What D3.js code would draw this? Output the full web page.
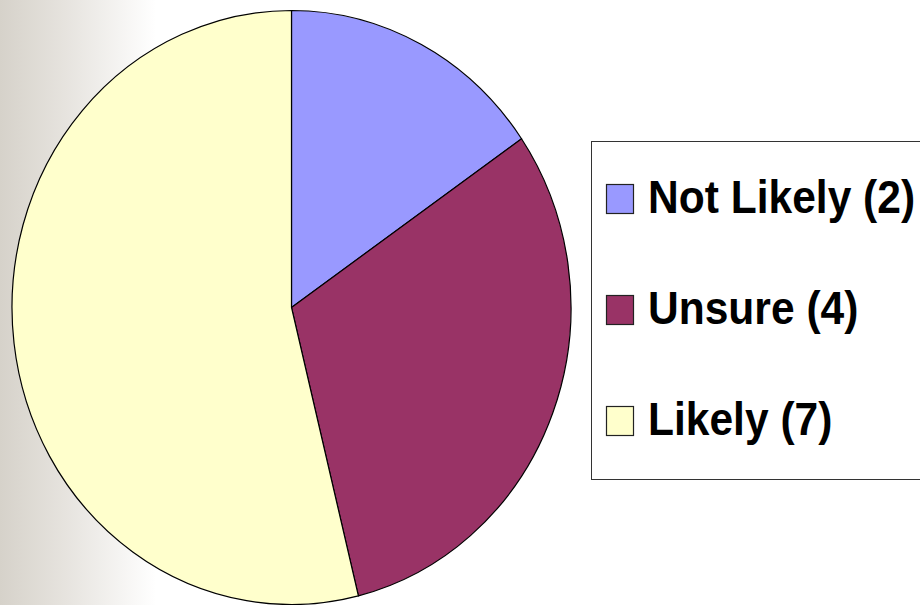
<html>
	<head>
		<meta content="text/html;charset=utf-8" http-equiv="Content-Type">
		<script src="https://d3js.org/d3.v7.min.js"></script>
		<style>
			body { margin: 0; background: #ffffff; }
		</style>
	</head>
	<body>
		<div id="stuff">
			<svg width="920" height="605"></svg>
		</div>
		<script>

	var categories = ["Not Likely", "Unsure", "Likely"];
	var values = [2, 4, 7];
	var colours = ["#9999ff", "#993366", "#ffffcc"];

	var svg = d3.select("#stuff").select("svg");

	// grey fade on the left edge
	var defs = svg.append("defs");
	var grad = defs.append("linearGradient")
		.attr("id", "bgFade")
		.attr("x1", "0").attr("y1", "0")
		.attr("x2", "1").attr("y2", "0");
	grad.append("stop").attr("offset", "0").attr("stop-color", "#d6d2ca");
	grad.append("stop").attr("offset", "0.07").attr("stop-color", "#e6e3de");
	grad.append("stop").attr("offset", "0.17").attr("stop-color", "#ffffff");
	svg.append("rect")
		.attr("x", 0).attr("y", 0)
		.attr("width", 920).attr("height", 605)
		.attr("fill", "url(#bgFade)");

	// pie, drawn as a circle and stretched a little vertically
	var cx = 291.5, cy = 307.5, rx = 279.5, ry = 297;
	var pie = d3.pie().sort(null).value(function(d) { return d; });
	var arc = d3.arc().innerRadius(0).outerRadius(rx);

	var pieGroup = svg.append("g")
		.attr("transform", "translate(" + cx + "," + cy + ") scale(1," + (ry / rx) + ")");
	pieGroup.selectAll("path")
		.data(pie(values))
		.enter().append("path")
		.attr("d", arc)
		.attr("fill", function(d, i) { return colours[i]; })
		.attr("stroke", "#000000")
		.attr("stroke-width", 1.2)
		.attr("vector-effect", "non-scaling-stroke");

	// legend
	var legendX = 591, legendY = 141, legendW = 340, legendH = 338;
	svg.append("rect")
		.attr("x", legendX + 0.5).attr("y", legendY + 0.5)
		.attr("width", legendW).attr("height", legendH)
		.attr("fill", "#ffffff")
		.attr("stroke", "#333333")
		.attr("stroke-width", 1);

	var rowY = d3.scalePoint().domain(categories).range([213, 435]);

	var rows = svg.selectAll("g.legendRow")
		.data(categories)
		.enter().append("g")
		.attr("class", "legendRow");
	rows.append("rect")
		.attr("x", 606.5)
		.attr("y", function(d) { return rowY(d) - 28.5; })
		.attr("width", 27)
		.attr("height", 29)
		.attr("fill", function(d, i) { return colours[i]; })
		.attr("stroke", "#222222")
		.attr("stroke-width", 1.2);
	rows.append("text")
		.attr("transform", function(d) { return "translate(648," + rowY(d) + ") scale(0.925,1)"; })
		.attr("font-family", "Liberation Sans, Arial, sans-serif")
		.style("font-size", "46px")
		.style("font-weight", "bold")
		.attr("fill", "#000000")
		.text(function(d, i) { return d + " (" + values[i] + ")"; });

		</script>
	</body>
</html>
